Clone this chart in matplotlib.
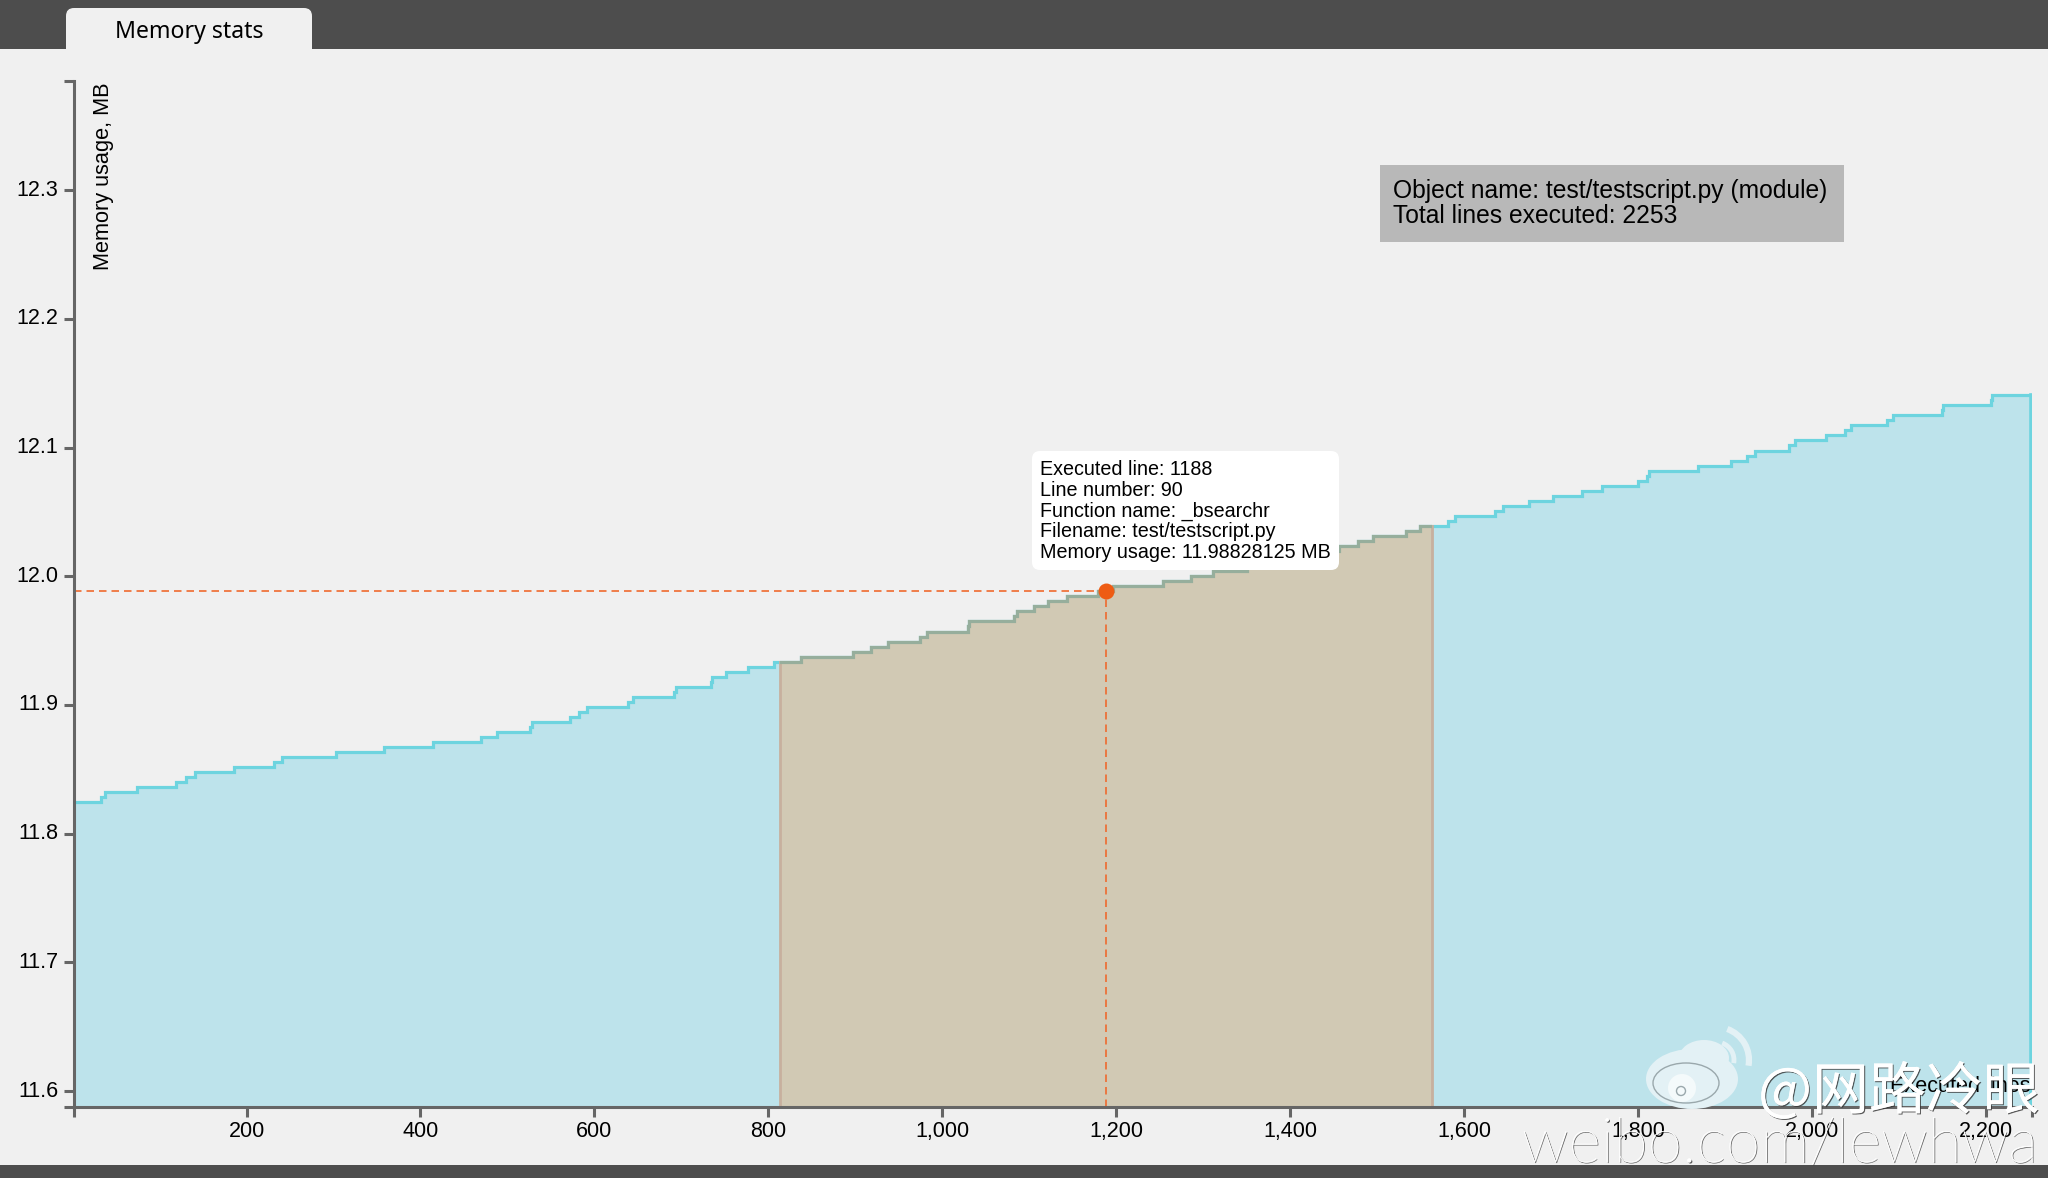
import numpy as np
import matplotlib
matplotlib.use('Agg')
import matplotlib.pyplot as plt
import matplotlib.patheffects as pe
from matplotlib.patches import Rectangle, FancyBboxPatch, Ellipse, Arc

plt.rcParams['font.family'] = ['Liberation Sans', 'DejaVu Sans']

# executed line where each memory level starts
step_lines = [1, 33, 37, 74, 119, 130, 141, 185, 231, 241, 303, 358, 414, 470, 488, 526, 528,
              572, 582, 591, 639, 644, 692, 694, 734, 735, 751, 777, 806, 838, 897, 918, 938,
              974, 982, 1030, 1031, 1083, 1086, 1106, 1122, 1143, 1179, 1196, 1254, 1286, 1311,
              1350, 1367, 1394, 1417, 1456, 1478, 1495, 1533, 1549, 1582, 1589, 1635, 1645,
              1675, 1702, 1735, 1758, 1800, 1810, 1813, 1869, 1907, 1925, 1934, 1974, 1981,
              2016, 2038, 2045, 2086, 2093, 2149, 2151, 2206, 2207]
# memory at each step, in 1/256 MB pages
step_pages = [3027, 3028, 3029, 3030, 3031, 3032, 3033, 3034, 3035, 3036, 3037, 3038, 3039,
              3040, 3041, 3042, 3043, 3044, 3045, 3046, 3047, 3048, 3049, 3050, 3051, 3052,
              3053, 3054, 3055, 3056, 3057, 3058, 3059, 3060, 3061, 3062, 3063, 3064, 3065,
              3066, 3067, 3068, 3069, 3070, 3071, 3072, 3073, 3074, 3075, 3076, 3077, 3078,
              3079, 3080, 3081, 3082, 3083, 3084, 3085, 3086, 3087, 3088, 3089, 3090, 3091,
              3092, 3093, 3094, 3095, 3096, 3097, 3098, 3099, 3100, 3101, 3102, 3103, 3104,
              3105, 3106, 3107, 3108]
total_lines = 2253
brush_lo = 813
brush_hi = 1563
sel_line = 1188
sel_mem = 11.98828125

x_ticks = [200, 400, 600, 800, 1000, 1200, 1400, 1600, 1800, 2000, 2200]
y_ticks = [11.6, 11.7, 11.8, 11.9, 12.0, 12.1, 12.2, 12.3]
y_bottom = 11.58757
y_top = 12.38477

tooltip_text = ('Executed line: 1188\nLine number: 90\nFunction name: _bsearchr\n'
                'Filename: test/testscript.py\nMemory usage: 11.98828125 MB')
info_text = 'Object name: test/testscript.py (module)\nTotal lines executed: 2253'

BG = '#f0f0f0'
DARK = '#4d4d4d'
AXIS = '#666666'
CYAN = '#6dd4df'
AREA = '#bde3eb'
TAN = '#d1c9b4'
TAN_LINE = '#96ae9c'
TAN_EDGE = '#c7b09e'
ORANGE = '#ee5c14'
LOGO = '#e3f1f5'

W, H = 2048, 1178
fig = plt.figure(figsize=(W / 100, H / 100), dpi=100, facecolor=BG)

# chart axes, placed to the pixel
left, right, top, bottom = 73.5, 2032, 81, 1107
ax = fig.add_axes([left / W, 1 - bottom / H, (right - left) / W, (bottom - top) / H])
ax.set_facecolor(BG)
ax.set_xlim(1, total_lines)
ax.set_ylim(y_bottom, y_top)

xs = np.array(step_lines + [total_lines])
ys = np.array(step_pages + [step_pages[-1]]) / 256

ax.fill_between(xs, ys, y_bottom, step='post', color=AREA, lw=0, zorder=1)
ax.step(xs, ys, where='post', color=CYAN, lw=2.3, zorder=2, solid_joinstyle='miter')
ax.plot([total_lines - 1, total_lines - 1], [y_bottom, ys[-1]], color=CYAN, lw=2.6, zorder=2)

# selected range, only under the curve
brush_clip = Rectangle((brush_lo, y_bottom), brush_hi - brush_lo, y_top - y_bottom, transform=ax.transData)
tan_fill = ax.fill_between(xs, ys, y_bottom, step='post', color=TAN, lw=0, zorder=3)
tan_fill.set_clip_path(brush_clip)
tan_line = ax.step(xs, ys, where='post', color=TAN_LINE, lw=2.3, zorder=4, solid_joinstyle='miter')[0]
tan_line.set_clip_path(brush_clip)
for b in (brush_lo, brush_hi):
    top_y = ys[np.searchsorted(xs, b, side='right') - 1]
    ax.plot([b, b], [y_bottom, top_y], color=TAN_EDGE, lw=2, zorder=3.5)

# crosshair on the selected line
ax.plot([1, sel_line], [sel_mem, sel_mem], color='#ef6a2e', lw=1.2, dashes=(4.5, 3), zorder=5)
ax.plot([sel_line, sel_line], [y_bottom, sel_mem], color='#ef6a2e', lw=1.2, dashes=(4.5, 3), zorder=5)
ax.plot([sel_line], [sel_mem], 'o', color=ORANGE, ms=11.5, mew=0, zorder=6)

for s in ('top', 'right'):
    ax.spines[s].set_visible(False)
for s in ('left', 'bottom'):
    ax.spines[s].set_color(AXIS)
    ax.spines[s].set_linewidth(2.2)
    ax.spines[s].set_zorder(7)

ax.set_xticks([1] + x_ticks + [total_lines])
ax.set_xticklabels([''] + [f'{t:,}' for t in x_ticks] + [''])
ax.set_yticks([y_bottom] + y_ticks + [y_top])
ax.set_yticklabels([''] + [f'{t:.1f}' for t in y_ticks] + [''], va='center')
ax.tick_params(axis='both', color=AXIS, width=2.2, length=7, labelsize=15.5, labelcolor='black')
ax.tick_params(axis='x', pad=3)
ax.tick_params(axis='y', pad=4)

# page chrome and overlays, in pixel coordinates
ui = fig.add_axes([0, 0, 1, 1], zorder=10)
ui.set_xlim(0, W)
ui.set_ylim(H, 0)
ui.axis('off')

ui.add_patch(Rectangle((0, 0), W, 49, color=DARK, lw=0))
ui.add_patch(Rectangle((0, 1165), W, 13, color=DARK, lw=0))
ui.add_patch(FancyBboxPatch((74, 16), 230, 50, boxstyle='round,pad=8,rounding_size=8', color=BG, lw=0))
ui.add_patch(Rectangle((60, 49), 260, 30, color=BG, lw=0))
ui.text(189, 37.5, 'Memory stats', ha='center', va='baseline', fontsize=16.6, family='Noto Sans', color='black')

ui.text(109, 82, 'Memory usage, MB', rotation=90, rotation_mode='anchor', ha='right', va='baseline', fontsize=15.7)
ui.text(2031, 1092, 'Executed lines', ha='right', va='baseline', fontsize=15.6)

ui.add_patch(Rectangle((1380, 165), 464, 77, color='#b8b8b8', lw=0))
ui.text(1393, 197.7, info_text.split('\n')[0], va='baseline', fontsize=17.7)
ui.text(1393, 223, info_text.split('\n')[1], va='baseline', fontsize=17.7)

ui.add_patch(FancyBboxPatch((1039, 458), 293, 105, boxstyle='round,pad=7,rounding_size=8', color='white', lw=0))
for i, line in enumerate(tooltip_text.split('\n')):
    ui.text(1040, 475 + i * 20.7, line, va='baseline', fontsize=14.2)

# weibo watermark
wm = dict(color=LOGO, lw=0)
ui.add_patch(Ellipse((1692, 1079), 92, 60, **wm))
ui.add_patch(Ellipse((1704, 1058), 50, 36, **wm))
ui.add_patch(Ellipse((1686, 1083), 66, 40, fill=False, edgecolor='#9aa8ac', lw=1))
ui.add_patch(Ellipse((1682, 1088), 28, 28, color='#f4fafb', lw=0))
ui.add_patch(Ellipse((1681, 1091), 9, 9, fill=False, edgecolor='#9aa8ac', lw=1))
ui.add_patch(Arc((1716, 1060), 66, 66, theta1=-70, theta2=10, color=LOGO, lw=4.5))
ui.add_patch(Arc((1716, 1060), 36, 36, theta1=-70, theta2=10, color=LOGO, lw=3.5))

shadow = [pe.withSimplePatchShadow(offset=(0.8, -0.8), shadow_rgbFace='#333333', alpha=0.8), pe.Normal()]
ui.text(2040, 1109, '@网路冷眼', ha='right', va='baseline', fontsize=41, color='white',
        family=['Noto Sans CJK SC', 'DejaVu Sans'], path_effects=shadow)
ui.text(2038, 1162, 'weibo.com/lewhwa', ha='right', va='baseline', fontsize=45, color='white',
        family='Lato', weight='light', path_effects=shadow)

fig.savefig('out.png', dpi=100, facecolor=BG)
